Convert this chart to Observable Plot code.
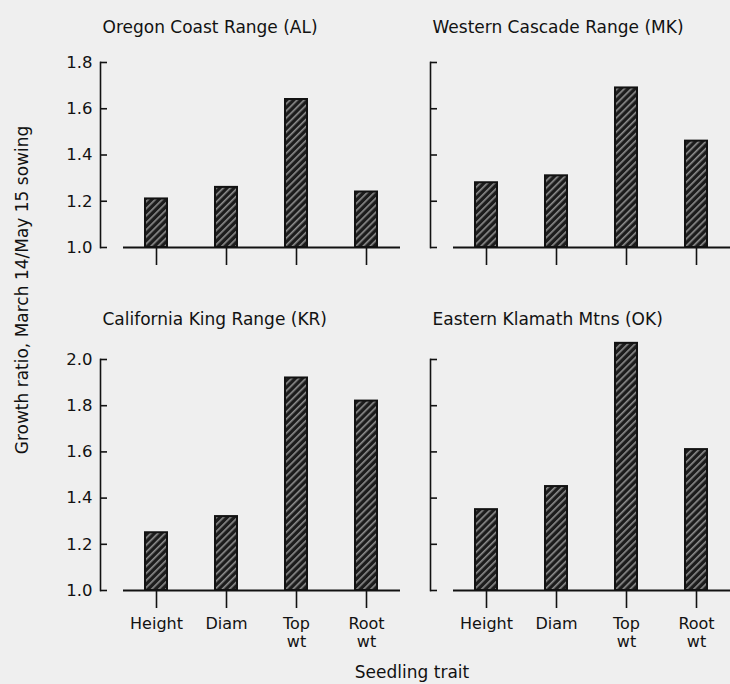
<!DOCTYPE html>
<html><head><meta charset="utf-8">
<script src="https://cdn.jsdelivr.net/npm/d3@7"></script>
<script src="https://cdn.jsdelivr.net/npm/@observablehq/plot@0.6"></script>
<style>
html,body{margin:0;padding:0;background:#efefef;}
#chart{position:relative;width:730px;height:684px;overflow:hidden;background:#efefef;font-family:"DejaVu Sans",sans-serif;color:#111;}
.panel{position:absolute;}
.lbl{position:absolute;font-size:17px;white-space:nowrap;transform:translate(-50%,-50%);}
</style></head><body><div id="chart"></div>
<script>
const traits = ["Height", "Diam", "Top wt", "Root wt"];
const regions = ["Oregon Coast Range (AL)", "Western Cascade Range (MK)", "California King Range (KR)", "Eastern Klamath Mtns (OK)"];
const valuesAL = [1.21, 1.26, 1.64, 1.24];
const valuesMK = [1.28, 1.31, 1.69, 1.46];
const valuesKR = [1.25, 1.32, 1.92, 1.82];
const valuesOK = [1.35, 1.45, 2.07, 1.61];
const ticksTop = [1.0, 1.2, 1.4, 1.6, 1.8];
const ticksBottom = [1.0, 1.2, 1.4, 1.6, 1.8, 2.0];
const yLabel = "Growth ratio, March 14/May 15 sowing";
const xLabel = "Seedling trait";

const allValues = [valuesAL, valuesMK, valuesKR, valuesOK];
const font = '"DejaVu Sans",sans-serif';
const chart = document.getElementById("chart");

const layout = [
  {left: 0,   top: 0,   height: 280, marginTop: 62, marginBottom: 33, ticks: ticksTop,    showY: true,  showX: false, titleDy: -42},
  {left: 330, top: 0,   height: 280, marginTop: 62, marginBottom: 33, ticks: ticksTop,    showY: false, showX: false, titleDy: -42},
  {left: 0,   top: 280, height: 404, marginTop: 79, marginBottom: 94, ticks: ticksBottom, showY: true,  showX: true,  titleDy: -47},
  {left: 330, top: 280, height: 404, marginTop: 79, marginBottom: 94, ticks: ticksBottom, showY: false, showX: true,  titleDy: -47}
];

layout.forEach((L, i) => {
  const data = traits.map((t, j) => ({trait: t, value: allValues[i][j]}));
  const id = "hatch" + i;
  const ink = "#121212";
  const svg = Plot.plot({
    width: 404, height: L.height,
    marginLeft: 100, marginRight: 4, marginTop: L.marginTop, marginBottom: L.marginBottom,
    style: {background: "transparent", fontFamily: font, fontSize: "16px", color: ink, overflow: "visible"},
    x: {domain: traits, range: [121, 401], paddingInner: 0.686, paddingOuter: 0.343, label: null},
    y: {domain: [L.ticks[0], L.ticks[L.ticks.length - 1]], label: null},
    marks: [
      Plot.frame({anchor: "left", stroke: ink, strokeWidth: 1.6}),
      Plot.axisY(L.ticks, {anchor: "left", tickSize: -7, fill: "none", stroke: ink, strokeWidth: 1.6, label: null}),
      L.showY ? Plot.axisY(L.ticks, {anchor: "left", tickSize: 0, tickPadding: 8, stroke: "none", fill: ink, fontSize: 16.5, tickFormat: d3.format(".1f"), label: null}) : null,
      Plot.axisX({anchor: "bottom", tickSize: 18, tickPadding: 8, stroke: ink, strokeWidth: 1.6, fill: L.showX ? ink : "none", fontSize: 16, lineHeight: 1.1, tickFormat: d => d.replace(" ", "\n"), label: null}),
      Plot.barY(data, {x: "trait", y1: 1, y2: "value", fill: `url(#${id})`, stroke: ink, strokeWidth: 2}),
      Plot.ruleY([1], {insetLeft: 23, stroke: ink, strokeWidth: 2}),
      Plot.text([regions[i]], {frameAnchor: "top-left", textAnchor: "start", dx: 2, dy: L.titleDy, text: d => d, fill: ink, fontSize: 17})
    ]
  });
  const defs = d3.select(svg).insert("defs", ":first-child");
  const pat = defs.append("pattern").attr("id", id).attr("patternUnits", "userSpaceOnUse")
    .attr("width", 5).attr("height", 5).attr("patternTransform", "rotate(45)");
  pat.append("rect").attr("width", 5).attr("height", 5).attr("fill", "#1c1c1c");
  pat.append("rect").attr("x", 0).attr("width", 1.6).attr("height", 5).attr("fill", "#8f8f8f");
  svg.classList.add("panel");
  svg.style.left = L.left + "px";
  svg.style.top = L.top + "px";
  svg.style.maxWidth = "none";
  chart.appendChild(svg);
});

const yl = document.createElement("div");
yl.className = "lbl";
yl.textContent = yLabel;
yl.style.left = "22px"; yl.style.top = "290px";
yl.style.transform = "translate(-50%,-50%) rotate(-90deg)";
chart.appendChild(yl);

const xl = document.createElement("div");
xl.className = "lbl";
xl.textContent = xLabel;
xl.style.left = "412px"; xl.style.top = "672px";
chart.appendChild(xl);
</script>
</body></html>
